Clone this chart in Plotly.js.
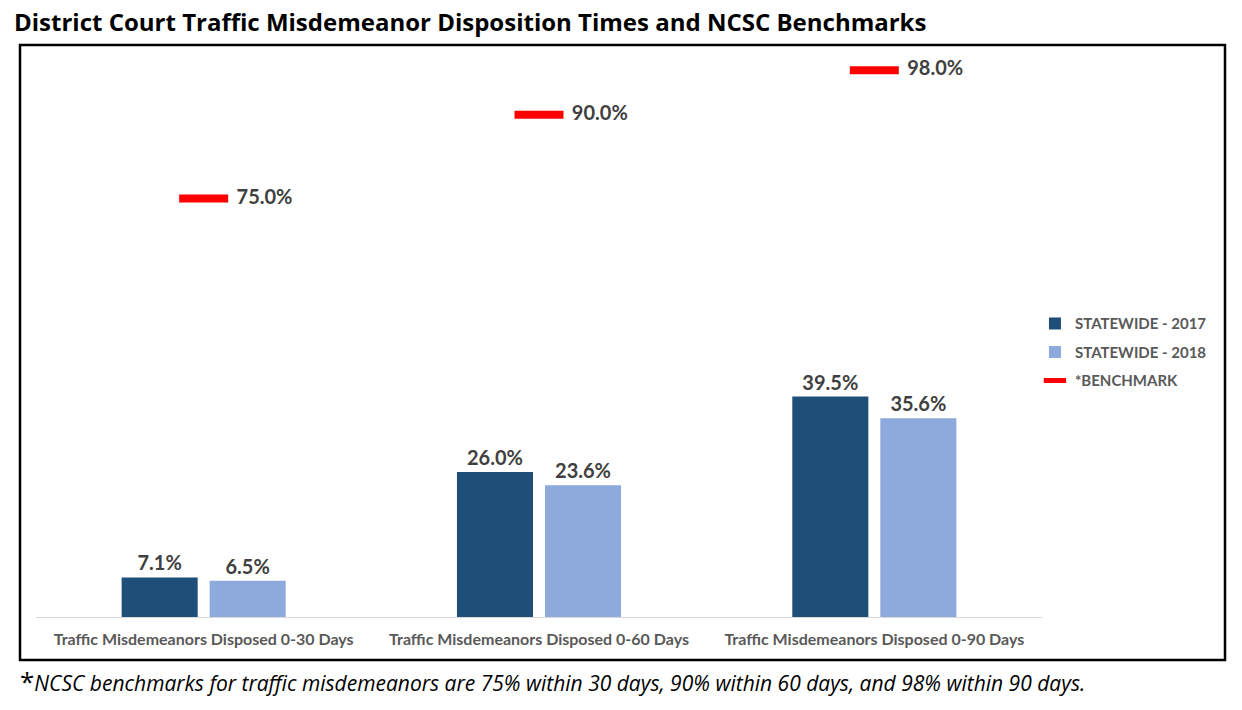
<!DOCTYPE html>
<html>
<head>
<meta charset="utf-8">
<script src="https://cdn.plot.ly/plotly-3.0.1.min.js"></script>
<style>html,body{margin:0;padding:0;background:#fff;}#chart{width:1242px;height:710px;}</style>
</head>
<body>
<div id="chart"></div>
<script>
const categories = [
  "Traffic Misdemeanors Disposed 0-30 Days",
  "Traffic Misdemeanors Disposed 0-60 Days",
  "Traffic Misdemeanors Disposed 0-90 Days"
];
const statewide2017 = [7.1, 26.0, 39.5];
const statewide2018 = [6.5, 23.6, 35.6];
const benchmark = [75.0, 90.0, 98.0];
const seriesNames = ["STATEWIDE - 2017", "STATEWIDE - 2018", "*BENCHMARK"];

const fmt = v => v.toFixed(1) + "%";
const FONT = "Lato, 'Open Sans', sans-serif";
const labelFont = {family: FONT, size: 20, color: "#404040", weight: 700};

const traces = [
  {
    type: "bar", name: seriesNames[0], x: categories, y: statewide2017,
    marker: {color: "#1F4E79"},
    text: statewide2017.map(fmt), textposition: "outside", cliponaxis: false,
    textfont: labelFont, legendgroup: "a", hoverinfo: "skip"
  },
  {
    type: "bar", name: seriesNames[1], x: categories, y: statewide2018,
    marker: {color: "#8EA9DB"},
    text: statewide2018.map(fmt), textposition: "outside", cliponaxis: false,
    textfont: labelFont, legendgroup: "b", hoverinfo: "skip"
  },
  {
    type: "scatter", mode: "markers+text", name: seriesNames[2], x: categories, y: benchmark,
    marker: {symbol: "line-ew", size: 35, color: "#FF0000", line: {color: "#FF0000", width: 8}},
    text: benchmark.map(v => "\u2002" + fmt(v)), textposition: "middle right",
    textfont: labelFont, cliponaxis: false, legendgroup: "c", hoverinfo: "skip"
  }
];

const layout = {
  width: 1242, height: 710,
  margin: {l: 36, r: 200, t: 59, b: 93},
  paper_bgcolor: "#ffffff", plot_bgcolor: "#ffffff",
  barmode: "group", bargap: 0.475, bargroupgap: 0.136,
  showlegend: true,
  legend: {
    x: 0.993, xanchor: "left", y: 0.555, yanchor: "top",
    font: {family: FONT, size: 15, color: "#595959", weight: 700},
    traceorder: "grouped", tracegroupgap: 6, itemwidth: 30
  },
  xaxis: {
    showgrid: false, zeroline: false, showline: true, linecolor: "#D9D9D9", linewidth: 1,
    ticks: "", tickfont: {family: FONT, size: 16, color: "#595959", weight: 700},
    ticklabelstandoff: 8, fixedrange: true
  },
  yaxis: {
    range: [0, 100], showgrid: false, zeroline: false, showline: false,
    showticklabels: false, ticks: "", fixedrange: true
  },
  shapes: [
    {type: "rect", xref: "paper", yref: "paper",
     x0: (20 - 36) / 1006, x1: (1225 - 36) / 1006,
     y0: (617 - 660) / 558, y1: (617 - 45) / 558,
     line: {color: "#000000", width: 2.5}, fillcolor: "rgba(0,0,0,0)", layer: "below"}
  ],
  annotations: [
    {xref: "paper", yref: "paper", x: (12 - 36) / 1006, y: (617 - 22) / 558,
     xanchor: "left", yanchor: "middle", showarrow: false,
     text: "<b>District Court Traffic Misdemeanor Disposition Times and NCSC Benchmarks</b>",
     font: {family: "'Open Sans', sans-serif", size: 24, color: "#000000"}},
    {xref: "paper", yref: "paper", x: (18 - 36) / 1006, y: (617 - 681) / 558,
     xanchor: "left", yanchor: "middle", showarrow: false,
     text: "<span style='font-size:26px'>*</span><i>NCSC benchmarks for traffic misdemeanors are 75% within 30 days, 90% within 60 days, and 98% within 90 days.</i>",
     font: {family: "'Open Sans', sans-serif", size: 21, color: "#000000"}}
  ]
};

Plotly.newPlot("chart", traces, layout, {displayModeBar: false, staticPlot: true});
</script>
</body>
</html>
